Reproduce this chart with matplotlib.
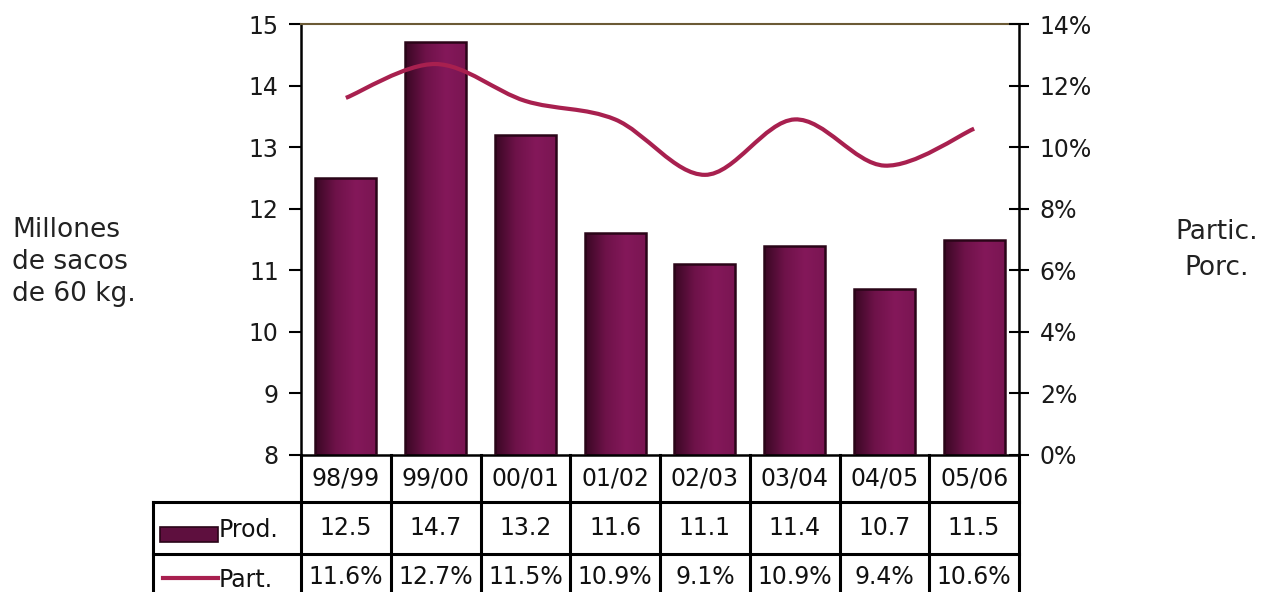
import numpy as np
import matplotlib
matplotlib.use("Agg")
import matplotlib.pyplot as plt
import matplotlib.transforms as mtransforms
from matplotlib.path import Path
from matplotlib.patches import PathPatch, Rectangle
from matplotlib.colors import LinearSegmentedColormap

# data
seasons = ["98/99", "99/00", "00/01", "01/02", "02/03", "03/04", "04/05", "05/06"]
prod = [12.5, 14.7, 13.2, 11.6, 11.1, 11.4, 10.7, 11.5]      # millones de sacos
part = [11.6, 12.7, 11.5, 10.9, 9.1, 10.9, 9.4, 10.6]        # participacion %
prod_labels = ["12.5", "14.7", "13.2", "11.6", "11.1", "11.4", "10.7", "11.5"]
part_labels = ["11.6%", "12.7%", "11.5%", "10.9%", "9.1%", "10.9%", "9.4%", "10.6%"]

BAR_EDGE = "#2a0518"
LINE_COL = "#a8204f"
bar_cmap = LinearSegmentedColormap.from_list(
    "bar", ["#3a0824", "#6e1249", "#84185a", "#7a1552"])

W, H = 1284, 592
fig = plt.figure(figsize=(W / 100, H / 100), dpi=100)
fig.patch.set_facecolor("white")


def fx(px):
    return px / W


def fy(py):
    return 1 - py / H


ax = fig.add_axes([fx(301), fy(455), fx(1019) - fx(301), fy(24) - fy(455)])
x = np.arange(len(seasons))

# bars with a left-to-right shading
bars = ax.bar(x, prod, width=0.68, bottom=0, color="none",
              edgecolor=BAR_EDGE, linewidth=1.8, zorder=3)
grad = np.linspace(0, 1, 64).reshape(1, -1)
for b in bars:
    x0, w, h = b.get_x(), b.get_width(), b.get_height()
    im = ax.imshow(grad, extent=[x0, x0 + w, 8, h], aspect="auto",
                   cmap=bar_cmap, zorder=2, interpolation="bilinear")
    im.set_clip_path(b)

ax.set_xlim(-0.5, len(seasons) - 0.5)
ax.set_ylim(8, 15)
ax.set_yticks(range(8, 16))
ax.set_xticks([])
ax.tick_params(axis="y", direction="out", length=9, width=1.5,
               pad=7, labelsize=17, labelcolor="#1a1a1a")
for s in ["left", "right", "bottom"]:
    ax.spines[s].set_linewidth(1.8)
    ax.spines[s].set_color("black")
ax.spines["top"].set_color("#6b5a35")
ax.spines["top"].set_linewidth(1.5)

# percentage line on the secondary axis, smoothed with bezier segments
ax2 = ax.twinx()
ax2.set_ylim(0, 14)
ax2.set_yticks(range(0, 15, 2))
ax2.set_yticklabels([f"{v}%" for v in range(0, 15, 2)])
ax2.tick_params(axis="y", direction="inout", length=14, width=1.5,
                pad=8, labelsize=17, labelcolor="#1a1a1a")
for s in ax2.spines.values():
    s.set_visible(False)

pts = np.column_stack([x, part]).astype(float)
verts = [tuple(pts[0])]
codes = [Path.MOVETO]
n = len(pts)
for i in range(n - 1):
    p_prev = pts[max(i - 1, 0)]
    p0, p1 = pts[i], pts[i + 1]
    p_next = pts[min(i + 2, n - 1)]
    c1 = p0 + (p1 - p_prev) / 6
    c2 = p1 - (p_next - p0) / 6
    verts += [tuple(c1), tuple(c2), tuple(p1)]
    codes += [Path.CURVE4] * 3
ax2.add_patch(PathPatch(Path(verts, codes), facecolor="none",
                        edgecolor=LINE_COL, linewidth=3, zorder=4))

# data table under the plot
tr = mtransforms.blended_transform_factory(ax.transData, ax.transAxes)
ax_h = 455 - 24
rows_px = [455, 502, 554, 610]
rows = [(455 - r) / ax_h for r in rows_px]
leg_left = -0.5 - (301 - 153) / (718 / len(seasons))
lk = dict(transform=tr, clip_on=False, color="black", linewidth=2.2)

for k in range(len(seasons) + 1):
    ax.plot([k - 0.5, k - 0.5], [rows[0], rows[3]], **lk)
for r in rows[1:3]:
    ax.plot([leg_left, len(seasons) - 0.5], [r, r], **lk)
ax.plot([leg_left, leg_left], [rows[1], rows[3]], **lk)

tk = dict(transform=tr, ha="center", va="center", fontsize=17,
          clip_on=False, color="#111111")
for i in range(len(seasons)):
    ax.text(x[i], (rows[0] + rows[1]) / 2, seasons[i], **tk)
    ax.text(x[i], (rows[1] + rows[2]) / 2, prod_labels[i], **tk)
    ax.text(x[i], (rows[2] + rows[3]) / 2 + 0.012, part_labels[i], **tk)

# legend keys in the table
fig.patches.append(Rectangle((fx(160), fy(542)), fx(218) - fx(160),
                             fy(527) - fy(542), transform=fig.transFigure,
                             facecolor="#5e0f3e", edgecolor=BAR_EDGE, lw=1.2))
fig.lines.append(plt.Line2D([fx(163), fx(218)], [fy(578), fy(578)],
                            transform=fig.transFigure, color=LINE_COL, lw=3))
fig.text(fx(219), fy(530), "Prod.", fontsize=17, va="center", ha="left",
         color="#111111")
fig.text(fx(219), fy(580), "Part.", fontsize=17, va="center", ha="left",
         color="#111111")

# axis titles
fig.text(fx(12), fy(262), "Millones\nde sacos\nde 60 kg.", fontsize=19,
         ha="left", va="center", linespacing=1.3, color="#222222")
fig.text(fx(1217), fy(250), "Partic.\nPorc.", fontsize=19,
         ha="center", va="center", linespacing=1.5, color="#222222")

fig.savefig("out.png", dpi=100, facecolor="white")
